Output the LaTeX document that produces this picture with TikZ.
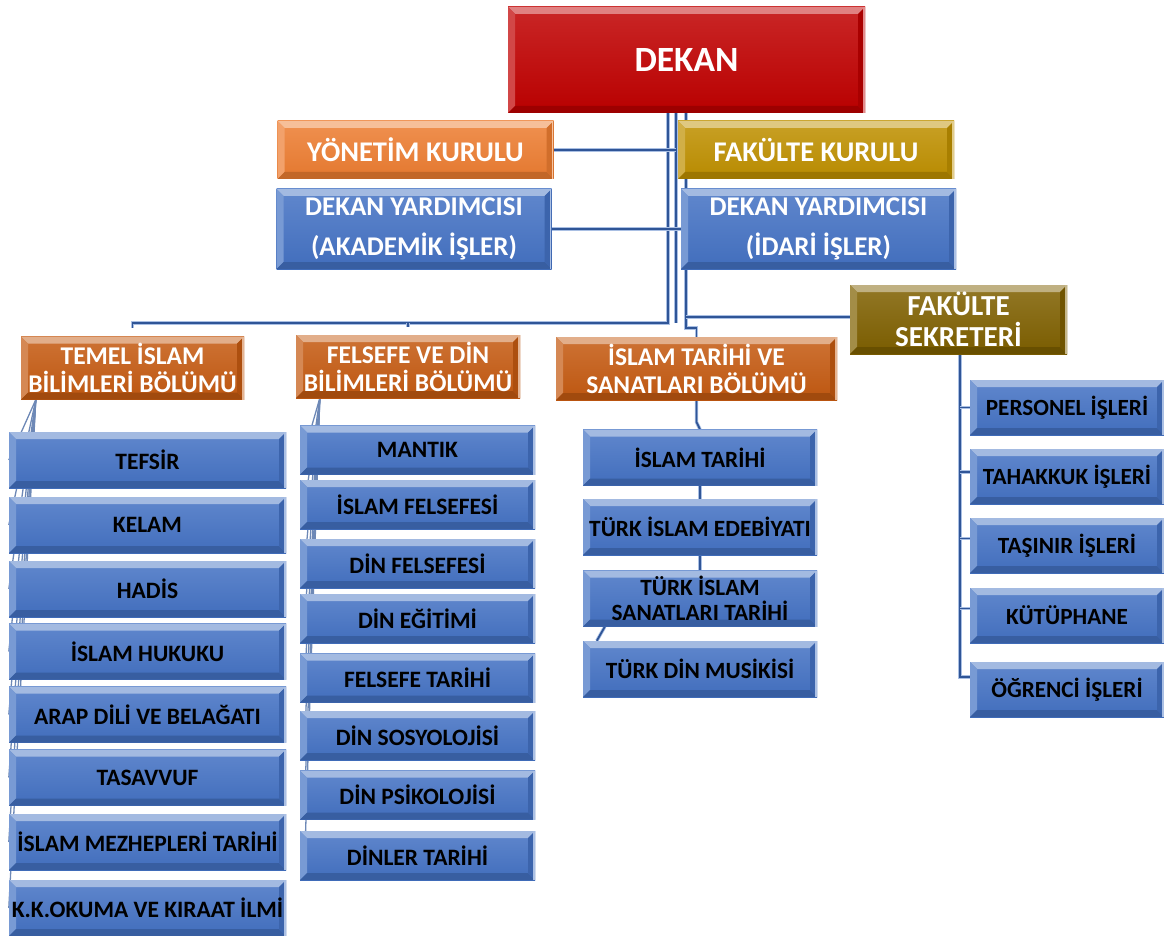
\documentclass[tikz,border=0pt]{standalone}
\usepackage{fontspec}
\setmainfont{Carlito}
\usetikzlibrary{backgrounds,calc}
\definecolor{cblue}{HTML}{4472C4}
\definecolor{cred}{HTML}{C00000}
\definecolor{corange}{HTML}{ED7D31}
\definecolor{cgold}{HTML}{BF9000}
\definecolor{cdorange}{HTML}{C55A11}
\definecolor{cbrown}{HTML}{7F6000}
\definecolor{lineblue}{HTML}{2F5597}
\definecolor{halo}{HTML}{A9BFE3}
\newcommand\bevelfx[1]{%
 \fill[#1!45!white, opacity=.9] (path picture bounding box.north west) -- (path picture bounding box.north east) -- ([xshift=-7pt,yshift=-7pt]path picture bounding box.north east) -- ([xshift=7pt,yshift=-7pt]path picture bounding box.north west) -- cycle;
 \fill[#1!72!white] (path picture bounding box.north west) -- ([xshift=7pt,yshift=-7pt]path picture bounding box.north west) -- ([xshift=7pt,yshift=7pt]path picture bounding box.south west) -- (path picture bounding box.south west) -- cycle;
 \fill[#1!82!black] (path picture bounding box.south west) -- (path picture bounding box.south east) -- ([xshift=-7pt,yshift=7pt]path picture bounding box.south east) -- ([xshift=7pt,yshift=7pt]path picture bounding box.south west) -- cycle;
 \fill[#1!88!black] (path picture bounding box.north east) -- (path picture bounding box.south east) -- ([xshift=-7pt,yshift=7pt]path picture bounding box.south east) -- ([xshift=-7pt,yshift=-7pt]path picture bounding box.north east) -- cycle;
 \draw[white!55!#1, line width=1.6pt] ([xshift=-1pt]path picture bounding box.north east) -- ([xshift=-1pt]path picture bounding box.south east);
}
\tikzset{
 bx/.style={draw=none, inner sep=0pt, align=center, text=white,
   top color=#1!85!white, bottom color=#1!96!black, path picture={\bevelfx{#1}}},
 dekanbox/.style={bx=cred, minimum width=357, minimum height=106, font=\bfseries\fontsize{35.5}{40}\selectfont},
 hdr/.style={bx=#1, minimum width=276, minimum height=58, font=\bfseries\fontsize{28.5}{32}\selectfont},
 dybox/.style={bx=cblue, minimum width=275, minimum height=80, font=\bfseries\fontsize{27}{40}\selectfont},
 fsbox/.style={bx=cbrown, minimum width=217, minimum height=69, font=\bfseries\fontsize{29}{31}\selectfont},
 dept/.style={bx=cdorange, minimum height=63, font=\bfseries\fontsize{25.5}{28}\selectfont},
 lchild/.style={bx=cblue, text=black, minimum width=277, minimum height=56, font=\bfseries\fontsize{23.5}{26}\selectfont},
 mchild/.style={bx=cblue, text=black, minimum width=235, minimum height=49, font=\bfseries\fontsize{23.5}{26}\selectfont},
 tchild/.style={bx=cblue, text=black, minimum width=234, minimum height=56, font=\bfseries\fontsize{23.3}{25}\selectfont},
 rchild/.style={bx=cblue, text=black, minimum width=194, minimum height=55, font=\bfseries\fontsize{23.2}{26}\selectfont},
 conn/.style={draw=lineblue, line width=1.8pt, preaction={draw=halo, line width=3.4pt}},
 fan/.style={draw=lineblue!70!white, line width=1.3pt},
}
\begin{document}
\begin{tikzpicture}[x=1pt,y=-1pt]
\useasboundingbox (0,0) rectangle (1164,936);
% top
\node[dekanbox] (dekan) at (686.5,60) {DEKAN};
\node[hdr=corange] (yk) at (415.5,150) {YÖNETİM KURULU};
\node[hdr=cgold] (fk) at (816,150) {FAKÜLTE KURULU};
\node[dybox] (dya) at (414,229) {DEKAN YARDIMCISI\\(AKADEMİK İŞLER)};
\node[dybox] (dyi) at (818.5,229) {DEKAN YARDIMCISI\\(İDARİ İŞLER)};
\node[fsbox] (fs) at (958.5,319.5) {FAKÜLTE\\SEKRETERİ};
% departments
\node[dept, minimum width=223] (temel) at (132.5,368) {TEMEL İSLAM\\BİLİMLERİ BÖLÜMÜ};
\node[dept, minimum width=224] (felsefe) at (408,366.5) {FELSEFE VE DİN\\BİLİMLERİ BÖLÜMÜ};
\node[dept, minimum width=281] (itarih) at (696.5,368.5) {İSLAM TARİHİ VE\\SANATLARI BÖLÜMÜ};
% left column
\node[lchild] (l1) at (147.5,460) {TEFSİR};
\node[lchild] (l2) at (147.5,525) {KELAM};
\node[lchild] (l3) at (147.5,589) {HADİS};
\node[lchild] (l4) at (147.5,651.5) {İSLAM HUKUKU};
\node[lchild] (l5) at (147.5,714.5) {ARAP DİLİ VE BELAĞATI};
\node[lchild] (l6) at (147.5,777.5) {TASAVVUF};
\node[lchild] (l7) at (147.5,842) {İSLAM MEZHEPLERİ TARİHİ};
\node[lchild] (l8) at (147.5,908) {K.K.OKUMA VE KIRAAT İLMİ};
% middle column
\node[mchild] (m1) at (417.5,450) {MANTIK};
\node[mchild] (m2) at (417.5,504.5) {İSLAM FELSEFESİ};
\node[mchild] (m3) at (417.5,563.5) {DİN FELSEFESİ};
\node[mchild] (m4) at (417.5,618.5) {DİN EĞİTİMİ};
\node[mchild] (m5) at (417.5,678) {FELSEFE TARİHİ};
\node[mchild] (m6) at (417.5,735.5) {DİN SOSYOLOJİSİ};
\node[mchild] (m7) at (417.5,795) {DİN PSİKOLOJİSİ};
\node[mchild] (m8) at (417.5,855.5) {DİNLER TARİHİ};
% third column
\node[tchild] (t1) at (700,457.5) {İSLAM TARİHİ};
\node[tchild] (t2) at (700,527) {TÜRK İSLAM EDEBİYATI};
\node[tchild] (t3) at (700,598.5) {TÜRK İSLAM\\SANATLARI TARİHİ};
\node[tchild] (t4) at (700,669) {TÜRK DİN MUSİKİSİ};
% right column
\node[rchild] (r1) at (1067,407.5) {PERSONEL İŞLERİ};
\node[rchild] (r2) at (1067,476.5) {TAHAKKUK İŞLERİ};
\node[rchild] (r3) at (1067,545.5) {TAŞINIR İŞLERİ};
\node[rchild] (r4) at (1067,615.5) {KÜTÜPHANE};
\node[rchild] (r5) at (1067,689.5) {ÖĞRENCİ İŞLERİ};

\begin{scope}[on background layer]
\coordinate (hA) at (0,323);
\coordinate (hC) at (0,328);
\coordinate (vA) at ([xshift=-18.5pt]dekan.south);
\coordinate (vB) at ([xshift=-10.5pt]dekan.south);
\coordinate (vC) at ([xshift=-0.5pt]dekan.south);
\coordinate (vR) at ([xshift=1.5pt]fs.south);
\draw[conn] (vA) |- (temel.north |- hA) -- ([yshift=8pt]temel.north);
\draw[conn] (felsefe.north |- hA) -- ([yshift=8pt]felsefe.north);
\draw[conn] (vB) -- (vB |- hA);
\draw[conn] (yk.east) -- (yk.east -| vB);
\draw[conn] (dya.east) -- (dyi.west);
\draw[conn] (vC) |- (itarih.north |- hC) -- (itarih.north);
\draw[conn] ([yshift=2.5pt]fs.west) -- ([yshift=2.5pt]fs.west -| vC);
% fans
\foreach \c in {l1,l2,l3,l4,l5,l6,l7,l8}
  \draw[fan] ([xshift=15pt]temel.south west) -- (\c.west);
\foreach \c in {m1,m2,m3,m4,m5,m6,m7,m8}
  \draw[fan] ([xshift=24pt]felsefe.south west) -- ([xshift=5pt]\c.west);
% third column chain
\draw[conn] (itarih.south) -- ++(0,22) -- (t1.north);
\draw[conn] (t1.south) -- (t2.north);
\draw[conn] (t2.south) -- (t3.north);
\draw[conn] ([xshift=22pt]t3.south west) -- ([xshift=14pt]t4.north west);
% right column
\coordinate (b1) at (r1.west);
\coordinate (b2) at ([yshift=4.5pt]r2.west);
\coordinate (b3) at ([yshift=7pt]r3.west);
\coordinate (b4) at ([yshift=7pt]r4.west);
\coordinate (b5) at ([yshift=12.5pt]r5.west);
\draw[conn] (vR) |- (b5);
\foreach \b in {b1,b2,b3,b4}
  \draw[conn] (\b -| vR) -- (\b);
\end{scope}
\end{tikzpicture}
\end{document}
